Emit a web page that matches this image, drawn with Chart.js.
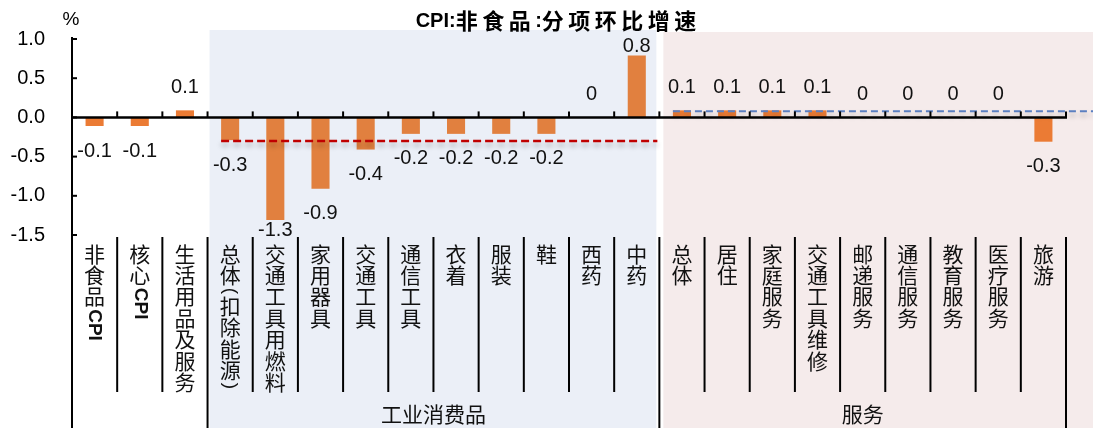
<!DOCTYPE html>
<html>
<head>
<meta charset="utf-8">
<script src="https://cdn.jsdelivr.net/npm/chart.js@4.4.1/dist/chart.umd.min.js"></script>
<style>
html,body{margin:0;padding:0;background:#fff;}
canvas{display:block;}
</style>
</head>
<body>
<canvas id="chart" width="1093" height="428"></canvas>
<script>
// data
const categories = ['非食品CPI','核心CPI','生活用品及服务','总体(扣除能源)','交通工具用燃料','家用器具','交通工具','通信工具','衣着','服装','鞋','西药','中药','总体','居住','家庭服务','交通工具维修','邮递服务','通信服务','教育服务','医疗服务','旅游'];
const values = [-0.11,-0.11,0.09,-0.29,-1.31,-0.91,-0.41,-0.21,-0.21,-0.21,-0.21,0,0.79,0.09,0.09,0.09,0.09,0,0,0,0,-0.31];
const groupNames = ['工业消费品','服务'];
const groupFirst = [3,13];
const groupLast = [12,21];
const groupMean = [-0.3,0.08];
const yTicks = [1.0,0.5,0.0,-0.5,-1.0,-1.5];

const SANS = '"Liberation Sans", Arial, sans-serif';
const CJK = '"Noto Sans CJK SC", "Noto Sans", sans-serif';
const PITCH = 21.4;

function fmt(v){
  let s = Number(v.toFixed(1));
  if (s === 0) return '0';
  return String(s);
}

function isCJK(ch){
  return /[\u3000-\u9fff\uff00-\uffef]/.test(ch);
}

// boundary between categories i-1 and i, taken from the x scale
function edge(chart, i){
  const x = chart.scales.x;
  const n = categories.length;
  const w = (chart.chartArea.right - chart.chartArea.left) / n;
  if (i < n) return x.getPixelForValue(i) - w/2;
  return x.getPixelForValue(n-1) + w/2;
}

function drawVertical(ctx, text, cx, top){
  let y = top;
  let i = 0;
  while (i < text.length){
    const ch = text[i];
    if (isCJK(ch)){
      ctx.font = '21px ' + CJK;
      ctx.textAlign = 'center';
      ctx.textBaseline = 'middle';
      ctx.fillText(ch, cx, y + PITCH/2);
      y += PITCH;
      i++;
    } else {
      let run = '';
      while (i < text.length && !isCJK(text[i])) run += text[i++];
      ctx.font = (/[A-Za-z]/.test(run) ? 'bold 19px ' : '19px ') + SANS;
      const w = ctx.measureText(run).width;
      ctx.save();
      ctx.translate(cx, y + 2);
      ctx.rotate(Math.PI/2);
      ctx.textAlign = 'left';
      ctx.textBaseline = 'middle';
      ctx.fillText(run, 0, 0);
      ctx.restore();
      y += w + 3;
    }
  }
}

// title: latin tight, CJK spaced out
function drawTitle(ctx, text, cx, cy){
  const latinFont = 'bold 20px ' + SANS;
  const cjkFont = 'bold 22px ' + CJK;
  ctx.textAlign = 'left';
  ctx.textBaseline = 'middle';
  const adv = [];
  for (let k = 0; k < text.length; k++){
    const ch = text[k];
    ctx.font = isCJK(ch) ? cjkFont : latinFont;
    let w = ctx.measureText(ch).width;
    if (isCJK(ch) && k < text.length - 1) w += 4.5;
    adv.push(w);
  }
  let x = cx - adv.reduce((s, w) => s + w, 0) / 2;
  for (let k = 0; k < text.length; k++){
    ctx.font = isCJK(text[k]) ? cjkFont : latinFont;
    ctx.fillText(text[k], x, cy);
    x += adv[k];
  }
}

const decor = {
  id: 'decor',
  beforeDraw(chart){
    const ctx = chart.ctx;
    const H = chart.height;
    ctx.save();
    const b0 = edge(chart, groupFirst[0]);
    const b1 = edge(chart, groupFirst[1]);
    ctx.fillStyle = '#EBEFF7';
    ctx.fillRect(b0 + 2, 30, (b1 - 3) - (b0 + 2), H - 30);
    ctx.fillStyle = '#F5EBEB';
    ctx.fillRect(b1 + 4, 32, chart.width - (b1 + 4), H - 32);
    ctx.restore();
  },
  afterDatasetsDraw(chart){
    const ctx = chart.ctx;
    const a = chart.chartArea;
    const y = chart.scales.y;
    const n = categories.length;
    const meta = chart.getDatasetMeta(0);
    const y0 = y.getPixelForValue(0);
    ctx.save();

    // group mean dashed lines
    const cols = ['#C00000','#5B7FC0'];
    const dashes = [[8,4],[7,4]];
    const widths = [2.5,2];
    for (let g = 0; g < groupNames.length; g++){
      const bar = meta.data[groupFirst[g]];
      const x1 = bar.x - bar.width/2;
      const x2 = g === groupNames.length - 1 ? chart.width : edge(chart, groupLast[g] + 1) - 2;
      const yy = y.getPixelForValue(groupMean[g]);
      ctx.save();
      ctx.shadowColor = 'rgba(0,0,0,0.28)';
      ctx.shadowBlur = 5;
      ctx.shadowOffsetY = 4;
      ctx.strokeStyle = cols[g];
      ctx.lineWidth = widths[g];
      ctx.setLineDash(dashes[g]);
      ctx.beginPath();
      ctx.moveTo(x1, yy);
      ctx.lineTo(x2, yy);
      ctx.stroke();
      ctx.restore();
    }

    // zero axis with upward ticks
    ctx.strokeStyle = '#000';
    ctx.lineWidth = 2.5;
    ctx.beginPath();
    ctx.moveTo(a.left, y0);
    ctx.lineTo(edge(chart, n) + 1, y0);
    ctx.stroke();
    ctx.lineWidth = 2;
    for (let i = 1; i <= n; i++){
      const x = edge(chart, i);
      ctx.beginPath();
      ctx.moveTo(x, y0 - 6);
      ctx.lineTo(x, y0);
      ctx.stroke();
    }

    // inward y ticks
    for (const v of yTicks){
      const yy = y.getPixelForValue(v);
      ctx.beginPath();
      ctx.moveTo(a.left, yy);
      ctx.lineTo(a.left + 5, yy);
      ctx.stroke();
    }
    ctx.beginPath();
    ctx.moveTo(a.left, a.top - 2);
    ctx.lineTo(a.left, a.top);
    ctx.stroke();

    // value labels
    ctx.fillStyle = '#111';
    ctx.font = '20px ' + SANS;
    ctx.textAlign = 'center';
    ctx.textBaseline = 'middle';
    meta.data.forEach((bar, i) => {
      let cy = values[i] >= 0 ? bar.y - 23 : bar.y + 25;
      cy = Math.max(a.top + 7, Math.min(a.bottom - 5, cy));
      ctx.fillText(fmt(values[i]), bar.x, cy);
    });
    ctx.restore();
  },
  afterDraw(chart){
    const ctx = chart.ctx;
    const a = chart.chartArea;
    const x = chart.scales.x;
    const n = categories.length;
    const H = chart.height;
    ctx.save();

    // separators
    const groupEdges = [0, groupFirst[0], groupFirst[1], n];
    ctx.strokeStyle = '#000';
    ctx.lineWidth = 2;
    for (let i = 0; i <= n; i++){
      const xx = edge(chart, i);
      ctx.beginPath();
      if (groupEdges.includes(i)){
        ctx.moveTo(xx, i === 0 ? a.bottom : 237);
        ctx.lineTo(xx, H);
      } else {
        ctx.moveTo(xx, 237);
        ctx.lineTo(xx, 392);
      }
      ctx.stroke();
    }

    // category labels, written top to bottom
    ctx.fillStyle = '#111';
    categories.forEach((c, i) => {
      drawVertical(ctx, c, x.getPixelForValue(i), 243);
    });

    // group labels
    ctx.font = '21px ' + CJK;
    ctx.textAlign = 'center';
    ctx.textBaseline = 'middle';
    for (let g = 0; g < groupNames.length; g++){
      const cx = (edge(chart, groupFirst[g]) + edge(chart, groupLast[g] + 1)) / 2;
      ctx.fillText(groupNames[g], cx, 414);
    }

    // title and unit
    ctx.fillStyle = '#000';
    drawTitle(ctx, 'CPI:非食品:分项环比增速', 556, 21);
    ctx.font = '19px ' + SANS;
    ctx.textAlign = 'center';
    ctx.fillText('%', 71, 20);
    ctx.restore();
  }
};

new Chart(document.getElementById('chart'), {
  type: 'bar',
  data: {
    labels: categories,
    datasets: [{
      data: values,
      backgroundColor: values.map((v, i) => (i >= groupFirst[0] && i <= groupLast[0]) ? '#E1803F' : '#EB7B34'),
      barPercentage: 0.4,
      categoryPercentage: 1.0
    }]
  },
  options: {
    responsive: false,
    devicePixelRatio: 1,
    animation: false,
    layout: { padding: { top: 35, right: 27, bottom: 193, left: 0 } },
    plugins: {
      legend: { display: false },
      tooltip: { enabled: false },
      title: { display: false }
    },
    scales: {
      x: {
        display: false
      },
      y: {
        min: -1.5,
        max: 1.0,
        afterBuildTicks(scale){
          scale.ticks = yTicks.map(v => ({ value: v }));
        },
        afterFit(scale){
          scale.width = 72;
        },
        grid: { display: false, drawTicks: false, tickLength: 0 },
        border: { display: true, color: '#000', width: 2 },
        ticks: {
          color: '#000',
          padding: 27,
          font: { family: SANS, size: 20 },
          callback: v => Number(v).toFixed(1)
        }
      }
    }
  },
  plugins: [decor]
});
</script>
</body>
</html>
